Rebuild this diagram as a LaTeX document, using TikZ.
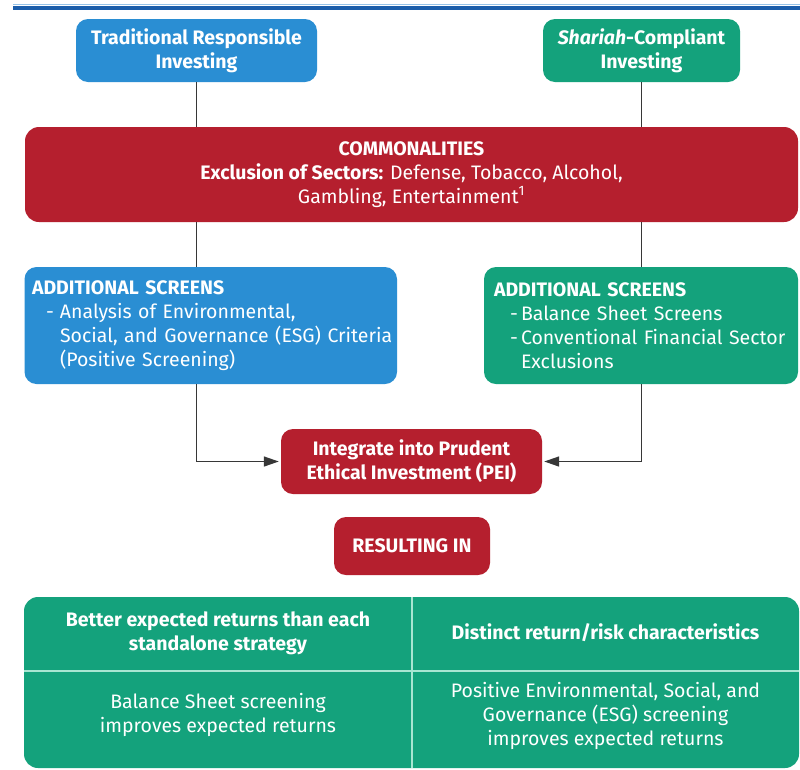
\documentclass[tikz,border=0pt]{standalone}
\usepackage{fontspec}
\setmainfont{Fira Sans}
\usetikzlibrary{arrows.meta}
\definecolor{tblue}{RGB}{42,142,211}
\definecolor{tgreen}{RGB}{20,162,124}
\definecolor{tred}{RGB}{181,31,46}
\definecolor{barblue}{RGB}{27,93,170}
\definecolor{barlight}{RGB}{150,195,232}
\definecolor{conn}{RGB}{55,55,55}
\definecolor{mint}{RGB}{168,230,210}
\hbadness=10000 \hfuzz=50pt
\begin{document}
\begin{tikzpicture}[x=1pt,y=-1pt,
  txt/.style={font=\fontsize{19.5}{24}\selectfont, text=white},
  cbox/.style={txt, rounded corners=12pt, inner sep=0pt, align=center},
  lbox/.style={txt, rounded corners=12pt, inner ysep=0pt, align=left},
  cell/.style={txt, align=center, inner sep=0pt},
  conline/.style={draw=conn, line width=1.4pt},
  arr/.style={conline, shorten >=2pt, -{Triangle[length=15pt,width=10pt]}}]
\useasboundingbox (0,0) rectangle (800,769);
\fill[white] (0,0) rectangle (800,769);
% top bar
\draw[barlight, line width=1.5pt] (13,4.5) -- (800,4.5);
\draw[barblue, line width=4pt] (13,8) -- (800,8);
% top boxes
\node[cbox, fill=tblue, minimum width=241pt, minimum height=63pt] (trad) at (196.5,50.5)
  {\bfseries Traditional Responsible\\\bfseries Investing};
\node[cbox, fill=tgreen, minimum width=197pt, minimum height=63pt] (shar) at (641.5,50.5)
  {\bfseries\itshape Shariah\upshape-Compliant\\\bfseries Investing};
% commonalities
\node[cbox, fill=tred, rounded corners=14pt, minimum width=773pt, minimum height=95pt] (comm) at (411.5,174.5)
  {\bfseries COMMONALITIES\\\textbf{Exclusion of Sectors:} Defense, Tobacco, Alcohol,\\Gambling, Entertainment\textsuperscript{1}};
% additional screens
\node[lbox, fill=tblue, inner xsep=7.5pt, text width=357.5pt, minimum height=117pt] (addl) at (210.75,325.5)
  {\mbox{\textbf{ADDITIONAL SCREENS}}\\
   \mbox{\hspace*{14pt}\makebox[14pt][l]{-}Analysis of Environmental,}\\
   \mbox{\hspace*{28pt}Social, and Governance (ESG) Criteria}\\
   \mbox{\hspace*{28pt}(Positive Screening)}};
\node[lbox, fill=tgreen, inner xsep=10pt, text width=294pt, minimum height=117pt] (addr) at (641,325.5)
  {\mbox{\textbf{ADDITIONAL SCREENS}}\\
   \mbox{\hspace*{16pt}\makebox[11pt][l]{-}Balance Sheet Screens}\\
   \mbox{\hspace*{16pt}\makebox[11pt][l]{-}Conventional Financial Sector}\\
   \mbox{\hspace*{27pt}Exclusions}};
% PEI and resulting
\node[cbox, fill=tred, minimum width=261pt, minimum height=65pt] (pei) at (411.5,461.5)
  {\bfseries Integrate into Prudent\\\bfseries Ethical Investment (PEI)};
\node[cbox, fill=tred, minimum width=156pt, minimum height=58pt] (res) at (412,546)
  {\bfseries RESULTING IN};
% connectors
\draw[conline] (trad.south) -- (comm.north -| trad.south);
\draw[conline] (shar.south) -- (comm.north -| shar.south);
\draw[conline] (comm.south -| trad.south) -- (addl.north -| trad.south);
\draw[conline] (comm.south -| shar.south) -- (addr.north -| shar.south);
\draw[arr] (addl.south -| trad.south) |- (pei.west);
\draw[arr] (addr.south -| shar.south) |- (pei.east);
% table
\node[fill=tgreen, rounded corners=14pt, minimum width=775pt, minimum height=171pt, inner sep=0pt] (tbl) at (411.5,682.5) {};
\coordinate (vdiv) at (412,671);
\draw[mint, line width=1.5pt] (tbl.west |- vdiv) -- (tbl.east |- vdiv);
\draw[mint, line width=1.5pt] (tbl.north -| vdiv) -- (tbl.south -| vdiv);
\node[cell] (c11) at (218,633) {\bfseries Better expected returns than each\\\bfseries standalone strategy};
\node[cell] (c12) at (605.5,633) {\bfseries Distinct return/risk characteristics};
\node[cell] (c21) at (218,715) {Balance Sheet screening\\improves expected returns};
\node[cell] (c22) at (605.5,715.5) {Positive Environmental, Social, and\\Governance (ESG) screening\\improves expected returns};
\end{tikzpicture}
\end{document}
